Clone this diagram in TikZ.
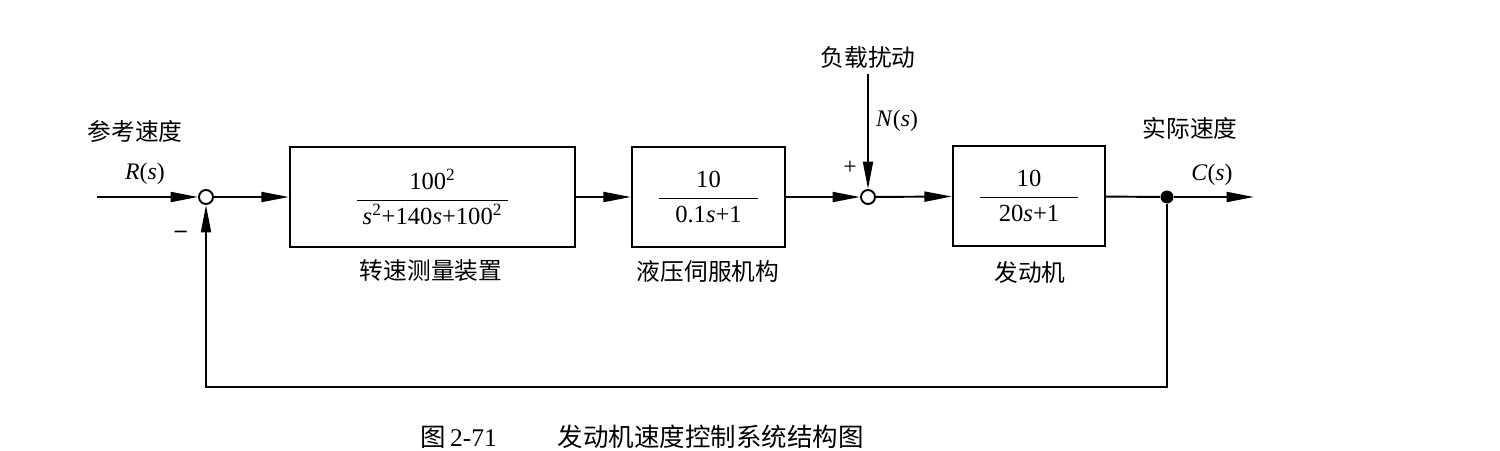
\documentclass[tikz,border=0pt]{standalone}
\usepackage{fontspec}
\usepackage{amsmath}
\setmainfont{Liberation Serif}
\newfontfamily\cjk{Noto Sans CJK SC}
\usetikzlibrary{arrows.meta}
\tikzset{
  line/.style={line width=1.1pt},
  arr/.style={line width=1.1pt,-{Triangle[length=0.55cm,width=0.2cm]}},
  blk/.style={draw,line width=1.3pt,minimum height=2cm,inner sep=0pt,font=\fontsize{14}{16}\selectfont},
  sumnode/.style={circle,draw,line width=1.1pt,fill=white,minimum size=0.28cm,inner sep=0pt},
  dotnode/.style={circle,fill=black,minimum size=0.26cm,inner sep=0pt},
  cjklab/.style={font=\cjk\fontsize{13.5}{15}\selectfont,inner sep=0pt},
  siglab/.style={font=\fontsize{13.5}{15}\selectfont,inner sep=0pt},
}
\begin{document}
\begin{tikzpicture}[x=0.02cm,y=-0.02cm]
\useasboundingbox (0,0) rectangle (1500,450);
% nodes
\node[sumnode] (s1) at (206,197) {};
\node[blk,minimum width=5.7cm] (b1) at (432.5,197)
  {$\dfrac{\text{100\textsuperscript{2}}}{\hspace{0.12cm}\text{\textit{s}\textsuperscript{2}+140\textit{s}+100\textsuperscript{2}}\hspace{0.12cm}}$};
\node[blk,minimum width=3.06cm] (b2) at (708.5,197)
  {$\dfrac{\text{10}}{\hspace{0.33cm}\text{0.1\textit{s}+1}\hspace{0.33cm}}$};
\node[sumnode] (s2) at (868,197) {};
\node[blk,minimum width=3.04cm] (b3) at (1029,196)
  {$\dfrac{\text{10}}{\hspace{0.38cm}\text{20\textit{s}+1}\hspace{0.38cm}}$};
\node[dotnode] (dot) at (1167,197) {};
\coordinate (in) at (97,197);
\coordinate (out) at (1254,197);
\coordinate (ntop) at (868,74);
\coordinate (fb) at (206,387);
% connectors
\draw[arr] (in) -- (s1);
\draw[arr] (s1) -- (b1);
\draw[arr] (b1) -- (b2);
\draw[arr] (b2) -- (s2);
\draw[arr] (ntop) -- (s2);
\draw[arr] (s2) -- (b3);
\draw[line] (b3) -- (dot);
\draw[arr] (dot) -- (out);
\draw[arr] (dot) |- (fb) -- (s1);
% labels
\node[cjklab] (t1) at (135,131) {参考速度};
\node[siglab] (rs) at (145,174) {\textit{R}(\textit{s})};
\node[siglab] (minus) at (181,234) {\textbf{--}};
\node[cjklab] (t2) at (431,271) {转速测量装置};
\node[cjklab] (t3) at (708,271) {液压伺服机构};
\node[cjklab] (t4) at (868,57) {负载扰动};
\node[siglab] (ns) at (897,121) {\textit{N}(\textit{s})};
\node[siglab] (plus) at (850,168) {+};
\node[cjklab] (t5) at (1030,272) {发动机};
\node[cjklab] (t6) at (1190,128) {实际速度};
\node[siglab] (cs) at (1212,175) {\textit{C}(\textit{s})};
\node[font=\fontsize{14.5}{16}\selectfont,inner sep=0pt,anchor=west] (cap) at (420,437)
  {{\cjk 图}\,2-71\hspace{2.4em}{\cjk 发动机速度控制系统结构图}};
\end{tikzpicture}
\end{document}
